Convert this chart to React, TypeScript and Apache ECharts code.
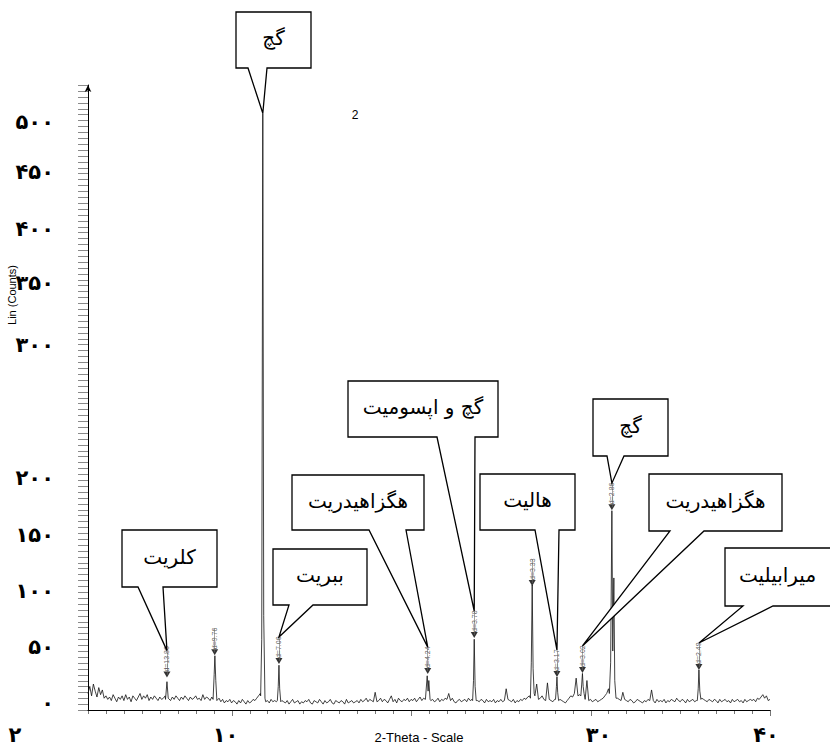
import { useEffect, useRef } from 'react';
import * as echarts from 'echarts';

// ---- data ----
const BG_START = 2.0;
const BG_STEP = 0.1;
// background counts, 2.0 .. 40.0 every 0.1 degree
const background = [
  14, 20, 12, 22, 16, 11, 19, 13, 17, 10,
  12, 9, 11, 8, 13, 10, 7, 11, 9, 12,
  8, 13, 9, 11, 7, 12, 10, 8, 11, 14,
  9, 12, 10, 13, 8, 11, 9, 12, 10, 8,
  11, 9, 10, 12, 9, 10, 8, 11, 9, 12,
  10, 8, 11, 9, 12, 10, 8, 11, 9, 10,
  12, 9, 10, 8, 13, 9, 11, 10, 8, 11,
  10, 9, 8, 10, 7, 9, 6, 8, 7, 9,
  6, 8, 7, 5, 8, 6, 9, 7, 5, 8,
  6, 7, 9, 8, 10, 12, 14, 11, 8, 7,
  8, 6, 9, 7, 8, 7, 9, 6, 8, 7,
  6, 8, 5, 7, 9, 6, 7, 8, 5, 7,
  6, 8, 7, 9, 6, 5, 8, 7, 6, 9,
  7, 5, 8, 6, 7, 9, 6, 5, 8, 7,
  6, 8, 7, 5, 9, 6, 7, 8, 6, 7,
  8, 6, 9, 7, 8, 10, 7, 9, 8, 7,
  15, 7, 8, 10, 7, 9, 8, 6, 9, 12,
  7, 9, 6, 10, 8, 7, 9, 8, 10, 7,
  9, 8, 10, 7, 9, 11, 8, 10, 9, 12,
  10, 8, 9, 7, 8, 10, 7, 9, 8, 10,
  9, 14, 8, 10, 7, 6, 8, 9, 7, 8,
  9, 7, 10, 8, 9, 11, 10, 8, 7, 9,
  8, 6, 9, 7, 8, 7, 9, 6, 8, 7,
  9, 7, 8, 18, 9, 8, 7, 9, 6, 8,
  7, 9, 8, 10, 9, 11, 12, 14, 16, 12,
  22, 9, 10, 12, 9, 8, 23, 9, 8, 7,
  9, 8, 10, 9, 8, 7, 6, 8, 10, 12,
  11, 14, 27, 12, 13, 12, 10, 9, 25, 8,
  9, 7, 8, 9, 7, 8, 9, 10, 12, 14,
  18, 11, 10, 9, 8, 10, 9, 8, 15, 9,
  8, 7, 9, 8, 6, 7, 9, 8, 7, 6,
  8, 7, 9, 8, 17, 8, 6, 9, 7, 8,
  7, 9, 6, 8, 7, 9, 8, 7, 10, 8,
  7, 9, 8, 6, 9, 7, 8, 9, 7, 8,
  9, 8, 10, 9, 8, 7, 9, 8, 7, 9,
  8, 6, 9, 7, 8, 9, 7, 8, 6, 9,
  7, 8, 9, 7, 8, 6, 9, 7, 8, 9,
  8, 9, 7, 10, 9, 11, 13, 10, 12, 8,
  9,
];

// diffraction peaks as [2theta, counts] points
const peakChlorite: [number, number][] = [[6.32, 9], [6.40, 24], [6.47, 10]];
const peak976: [number, number][] = [[8.97, 9], [9.03, 30], [9.07, 46], [9.12, 25], [9.18, 8]];
const peakGypsumMain: [number, number][] = [[11.62, 12], [11.68, 60], [11.74, 506], [11.79, 80], [11.86, 10]];
const peak700: [number, number][] = [[12.55, 8], [12.60, 20], [12.64, 38], [12.68, 18], [12.74, 7]];
const peak424: [number, number][] = [[20.82, 9], [20.90, 29], [20.95, 16], [20.99, 25], [21.06, 9]];
const peak378: [number, number][] = [[23.43, 8], [23.48, 25], [23.52, 60], [23.57, 20], [23.63, 8]];
const peak333: [number, number][] = [[26.65, 10], [26.70, 40], [26.75, 106], [26.80, 35], [26.86, 14]];
const peak317: [number, number][] = [[28.05, 9], [28.10, 20], [28.13, 28], [28.17, 15], [28.22, 8]];
const peak302: [number, number][] = [[29.46, 12], [29.51, 22], [29.55, 31], [29.59, 20], [29.64, 14]];
const peak286: [number, number][] = [[31.05, 14], [31.12, 40], [31.19, 169], [31.24, 50], [31.30, 112], [31.35, 25], [31.42, 10]];
const peak249: [number, number][] = [[35.95, 8], [36.00, 18], [36.04, 34], [36.09, 16], [36.15, 9]];

const peaks = [peakChlorite, peak976, peakGypsumMain, peak700, peak424, peak378, peak333, peak317, peak302, peak286, peak249];

// d-spacing markers
const markerX = [6.40, 9.06, 12.64, 20.93, 23.52, 26.75, 28.13, 29.55, 31.19, 36.04];
const markerY = [30, 49, 41.5, 33, 63.6, 107.7, 30.5, 34, 172, 36.5];
const markerLabels = ['d=13.86', 'd=9.76', 'd=7.00', 'd=4.24', 'd=3.78', 'd=3.33', 'd=3.17', 'd=3.02', 'd=2.86', 'd=2.49'];

const yTickLabels = [0, 50, 100, 150, 200, 300, 350, 400, 450, 500];
const xTickLabels = [2, 10, 30, 40];
const Y_MAX = 530;
const Y_TICK_STEP = 5;
const X_MIN = 2;
const X_MAX = 40;
const X_TICK_STEP = 1;

const calloutTexts = ['گچ', 'کلریت', 'ببریت', 'هگزاهیدریت', 'گچ و اپسومیت', 'هالیت', 'گچ', 'هگزاهیدریت', 'میرابیلیت'];
// index into markers; -1 = top of the main gypsum peak
const calloutTargets = [-1, 0, 2, 3, 4, 6, 8, 7, 9];

// ---- layout (pixels) ----
const calloutBoxes = [
  [236, 12, 311, 68],
  [122, 530, 217, 587],
  [273, 549, 367, 605],
  [292, 475, 424, 530],
  [348, 381, 498, 437],
  [480, 474, 575, 530],
  [593, 399, 668, 456],
  [649, 474, 782, 531],
  [725, 548, 834, 606],
];
const calloutBases = [
  [248, 267], [138, 163], [289, 313], [369, 406], [437, 475], [535, 559], [607, 624], [670, 704], [743, 773],
];
const TIP_GAP = 24;
// vertical nudge (px, negative = up) of each y label, as in the picture
const yLabelShift: Record<number, number> = { 0: -7, 50: -4, 100: -1, 150: 2, 200: 4, 300: -11, 350: -14, 400: -9, 450: -7, 500: 2 };

const FA = '۰۱۲۳۴۵۶۷۸۹';
const toFa = (n: number) => String(n).replace(/[0-9]/g, (d) => FA[+d]);
const PERSIAN_FONT = '"DejaVu Sans", sans-serif';

function buildLine(): [number, number][] {
  const out: [number, number][] = [];
  background.forEach((v, i) => {
    const x = +(BG_START + i * BG_STEP).toFixed(2);
    const inside = peaks.some((p) => x >= p[0][0] && x <= p[p.length - 1][0]);
    if (!inside) out.push([x, v]);
  });
  peaks.forEach((p) => p.forEach((pt) => out.push([pt[0], pt[1]])));
  out.sort((a, b) => a[0] - b[0]);
  return out;
}

const labelFont = { fontFamily: PERSIAN_FONT, fontSize: 21, fontWeight: 'bold' as const, color: '#000' };

const xLabelRich: Record<string, any> = {
  a: { ...labelFont, padding: [0, 146, 0, 0] },
  b: { ...labelFont, padding: [0, 12, 0, 0] },
  c: { ...labelFont, padding: [0, 0, 0, 16] },
  d: { ...labelFont, padding: [0, 8, 0, 0] },
};
const xLabelKey: Record<number, string> = { 2: 'a', 10: 'b', 30: 'c', 40: 'd' };

const yLabelRich: Record<string, any> = {};
yTickLabels.forEach((v) => {
  const s = yLabelShift[v] || 0;
  yLabelRich['y' + v] = { ...labelFont, padding: s < 0 ? [0, 0, -2 * s, 0] : [2 * s, 0, 0, 0] };
});

export default function App() {
  const ref = useRef<HTMLDivElement>(null);
  useEffect(() => {
    if (!ref.current) return;
    const chart = echarts.init(ref.current, undefined, { renderer: 'svg' });
    const lineData = buildLine();
    chart.setOption({
      animation: false,
      backgroundColor: '#fff',
      grid: { left: 88, right: 60, top: 85, bottom: 37, containLabel: false },
      xAxis: {
        type: 'value',
        min: X_MIN,
        max: X_MAX,
        interval: 2,
        splitLine: { show: false },
        axisLine: { lineStyle: { color: '#000', width: 1 } },
        axisTick: { show: false },
        axisLabel: {
          interval: 0,
          margin: 14,
          formatter: (v: number) => (xTickLabels.includes(v) ? `{${xLabelKey[v]}|${toFa(v)}}` : ''),
          rich: xLabelRich,
          ...labelFont,
        },
      },
      yAxis: {
        type: 'value',
        min: 0,
        max: Y_MAX,
        interval: 50,
        splitLine: { show: false },
        axisLine: {
          show: true,
          symbol: ['none', 'arrow'],
          symbolSize: [5, 7],
          lineStyle: { color: '#000', width: 1 },
        },
        axisTick: { show: false },
        axisLabel: {
          interval: 0,
          margin: 34,
          formatter: (v: number) => (yTickLabels.includes(v) ? `{y${v}|${toFa(v)}}` : ''),
          rich: yLabelRich,
          ...labelFont,
        },
      },
      series: [
        {
          type: 'line',
          data: lineData,
          showSymbol: false,
          lineStyle: { color: '#111', width: 0.8 },
          z: 2,
        },
        {
          type: 'scatter',
          data: markerX.map((x, i) => [x, markerY[i]]),
          symbol: 'triangle',
          symbolRotate: 180,
          symbolSize: [7, 6],
          itemStyle: { color: '#000' },
          label: {
            show: true,
            position: 'top',
            distance: 2,
            rotate: 90,
            align: 'left',
            verticalAlign: 'middle',
            offset: [-2, 0],
            formatter: (p: any) => markerLabels[p.dataIndex],
            fontFamily: '"Liberation Sans", Arial, sans-serif',
            fontSize: 7,
            color: '#333',
          },
          markLine: {
            silent: true,
            symbol: 'none',
            label: { show: false },
            lineStyle: { color: '#666', width: 0.6, type: 'solid' },
            data: markerX.map((x, i) => [
              { coord: [x, markerY[i]] },
              { coord: [x, markerY[i] + 20] },
            ]),
          },
          z: 3,
        },
      ],
    });

    const graphics: any[] = [];
    const px = (x: number, y: number) => chart.convertToPixel({ seriesIndex: 0 }, [x, y]) as number[];

    // axis ticks, placed through the axis scales
    for (let v = 0; v <= Y_MAX; v += Y_TICK_STEP) {
      const p = px(X_MIN, v);
      const yy = Math.round(p[1]) + 0.5;
      graphics.push({
        type: 'line',
        silent: true,
        shape: { x1: p[0] - 10, y1: yy, x2: p[0], y2: yy },
        style: { stroke: '#8a8a8a', lineWidth: 1 },
      });
    }
    for (let v = X_MIN; v <= X_MAX; v += X_TICK_STEP) {
      const p = px(v, 0);
      const xx = Math.round(p[0]) + 0.5;
      graphics.push({
        type: 'line',
        silent: true,
        shape: { x1: xx, y1: p[1], x2: xx, y2: p[1] + (v % 10 === 0 ? 6 : 4) },
        style: { stroke: '#777', lineWidth: 1 },
      });
    }

    const mainPeakTop = peakGypsumMain.reduce((a, b) => (b[1] > a[1] ? b : a));
    calloutTexts.forEach((txt, i) => {
      const t = calloutTargets[i];
      let tip: number[];
      if (t < 0) {
        tip = px(mainPeakTop[0], mainPeakTop[1]);
      } else {
        const p = px(markerX[t], markerY[t]);
        tip = [p[0], p[1] - TIP_GAP];
      }
      const [x1, y1, x2, y2] = calloutBoxes[i];
      const [b1, b2] = calloutBases[i];
      graphics.push({
        type: 'polygon',
        z: 100,
        shape: {
          points: [[x1, y1], [x2, y1], [x2, y2], [b2, y2], [tip[0], tip[1]], [b1, y2], [x1, y2]],
        },
        style: { fill: '#fff', stroke: '#000', lineWidth: 1.3 },
      });
      graphics.push({
        type: 'text',
        z: 101,
        x: (x1 + Math.min(x2, 830)) / 2,
        y: (y1 + y2) / 2 - 2,
        style: {
          text: txt,
          align: 'center',
          verticalAlign: 'middle',
          font: `20px ${PERSIAN_FONT}`,
          fill: '#000',
        },
      });
    });
    graphics.push({
      type: 'text',
      x: 12,
      y: 295,
      rotation: Math.PI / 2,
      style: {
        text: 'Lin (Counts)',
        align: 'center',
        verticalAlign: 'middle',
        font: '11px "Liberation Sans", Arial, sans-serif',
        fill: '#000',
      },
    });
    graphics.push({
      type: 'text',
      x: 419,
      y: 737,
      style: {
        text: '2-Theta - Scale',
        align: 'center',
        verticalAlign: 'middle',
        font: '13px "Liberation Sans", Arial, sans-serif',
        fill: '#000',
      },
    });
    graphics.push({
      type: 'text',
      x: 355,
      y: 115,
      style: {
        text: '2',
        align: 'center',
        verticalAlign: 'middle',
        font: '12px "Liberation Sans", Arial, sans-serif',
        fill: '#000',
      },
    });
    chart.setOption({ graphic: graphics });

    return () => chart.dispose();
  }, []);
  return <div ref={ref} style={{ position: 'fixed', left: 0, top: 0, width: 830, height: 747, background: '#fff' }} />;
}
